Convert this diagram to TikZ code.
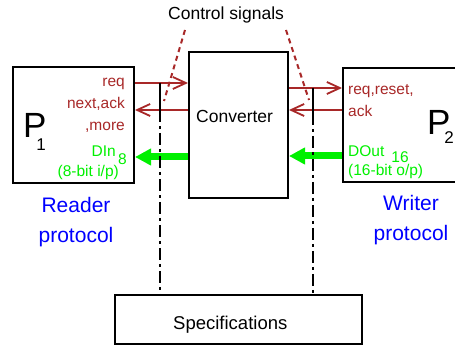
\documentclass[tikz,border=0pt]{standalone}
\usepackage{fontspec}
\setmainfont{Liberation Sans}
\usetikzlibrary{arrows.meta,positioning}

\definecolor{sigred}{RGB}{168,40,40}
\definecolor{datagreen}{RGB}{0,240,0}
\definecolor{protoblue}{RGB}{0,0,255}

\begin{document}
\begin{tikzpicture}[x=1pt,y=-1pt]  % 1 unit = 1 px of the original figure, y grows downwards

    % Define some common styles
    \tikzset{
        blockbox/.style={draw, line width=2pt, inner sep=0pt},
        sigline/.style={sigred, line width=1.8pt, -{Straight Barb[length=13pt,width=12pt]}},
        dataline/.style={datagreen, line width=7pt, -{Triangle[length=16pt,width=16pt]}},
        tapline/.style={line width=2pt, dash pattern=on 12pt off 4pt on 3pt off 4pt},
        tapsolid/.style={line width=2pt},
        ctrlline/.style={sigred, line width=2pt, dash pattern=on 5pt off 4pt},
        plaintxt/.style={inner sep=0pt, font=\fontsize{17.5}{20}\selectfont},
        redtxt/.style={inner sep=0pt, text=sigred, font=\fontsize{15.5}{18}\selectfont},
        greentxt/.style={inner sep=0pt, text=datagreen, font=\fontsize{15.5}{18}\selectfont},
        bluetxt/.style={inner sep=0pt, text=protoblue, align=center, font=\fontsize{21}{30}\selectfont},
        bigP/.style={inner sep=0pt, font=\fontsize{35}{35}\selectfont},
        Pidx/.style={inner sep=0pt, font=\fontsize{17}{17}\selectfont}
    }

    % Canvas - same size as the original figure (455 x 347)
    \useasboundingbox (0,0) rectangle (455,347);

    % Blocks
    \node[blockbox, minimum width=121pt, minimum height=116pt] (p1) at (73.5,125) {};
    \node[blockbox, minimum width=99pt, minimum height=146pt] (conv) at (238.5,125) {};
    \node[blockbox, minimum width=117pt, minimum height=114pt] (p2) at (401.5,125) {};
    \node[blockbox, minimum width=247pt, minimum height=49pt] (spec) at (238.5,319.5) {};

    % Block names
    \node[bigP, anchor=base west] (p1name) at (23,138) {P};
    \node[Pidx, anchor=base] (p1sub) at (41,151) {1};
    \node[bigP, anchor=base west] (p2name) at (427,135) {P};
    \node[Pidx, anchor=base] (p2sub) at (449,144) {2};
    \node[plaintxt, anchor=base west] (convname) at (196,123) {Converter};
    \node[plaintxt, anchor=base west, font=\fontsize{18.5}{20}\selectfont] (specname) at (173,329) {Specifications};
    \node[plaintxt, anchor=base west] (ctrlname) at (168,20) {Control signals};

    % Reader side labels
    \node[redtxt, anchor=base east] (reqL) at (125,87) {req};
    \node[redtxt, anchor=base east] (ackL) at (125,109) {next,ack};
    \node[redtxt, anchor=base east] (moreL) at (125,131) {,more};
    \node[greentxt, anchor=base east] (dinL) at (116,157) {DIn};
    \node[greentxt, anchor=base] (dinW) at (122.5,165) {8};
    \node[greentxt, anchor=base east] (dinN) at (119,177) {(8-bit i/p)};

    % Writer side labels
    \node[redtxt, anchor=base west] (reqR) at (348,95) {req,reset,};
    \node[redtxt, anchor=base west] (ackR) at (348,117) {ack};
    \node[greentxt, anchor=base west] (doutR) at (348,157) {DOut};
    \node[greentxt, anchor=base] (doutW) at (400,163) {16};
    \node[greentxt, anchor=base west] (doutN) at (348,176) {(16-bit o/p)};

    % Protocol captions
    \node[bluetxt] (reader) at (76,222) {Reader\\protocol};
    \node[bluetxt] (writer) at (411,220) {Writer\\protocol};

    % Handshake signals (converter <-> P1)
    \draw[sigline] ([yshift=42pt]p1.east) -- ([yshift=42pt]conv.west);
    \draw[sigline] ([yshift=15pt]conv.west) -- ([yshift=15pt]p1.east);
    \draw[dataline] ([yshift=-32pt]conv.west) -- ([yshift=-32pt]p1.east);

    % Handshake signals (converter <-> P2)
    \draw[sigline] ([yshift=37pt]conv.east) -- ([yshift=37pt]p2.west);
    \draw[sigline] ([yshift=15pt]p2.west) -- ([yshift=15pt]conv.east);
    \draw[dataline] ([yshift=-31pt]p2.west) -- ([yshift=-31pt]conv.east);

    % Taps down to the specifications
    \coordinate (tapL) at (160,83);
    \coordinate (tapR) at (313,88);
    \draw[tapsolid] (tapL) -- ++(0,27) coordinate (tapLend);
    \draw[tapline] (tapLend) -- (tapL |- spec.north);
    \draw[tapsolid] (tapR) -- ++(0,25) coordinate (tapRend);
    \draw[tapline] (tapRend) -- (tapR |- spec.north);

    % Control signal pointers
    \coordinate (ctrlA) at (185,30);
    \coordinate (ctrlB) at (286,30);
    \draw[ctrlline] (ctrlA) -- (164,101);
    \draw[ctrlline] (ctrlB) -- (309,100);

\end{tikzpicture}
\end{document}
